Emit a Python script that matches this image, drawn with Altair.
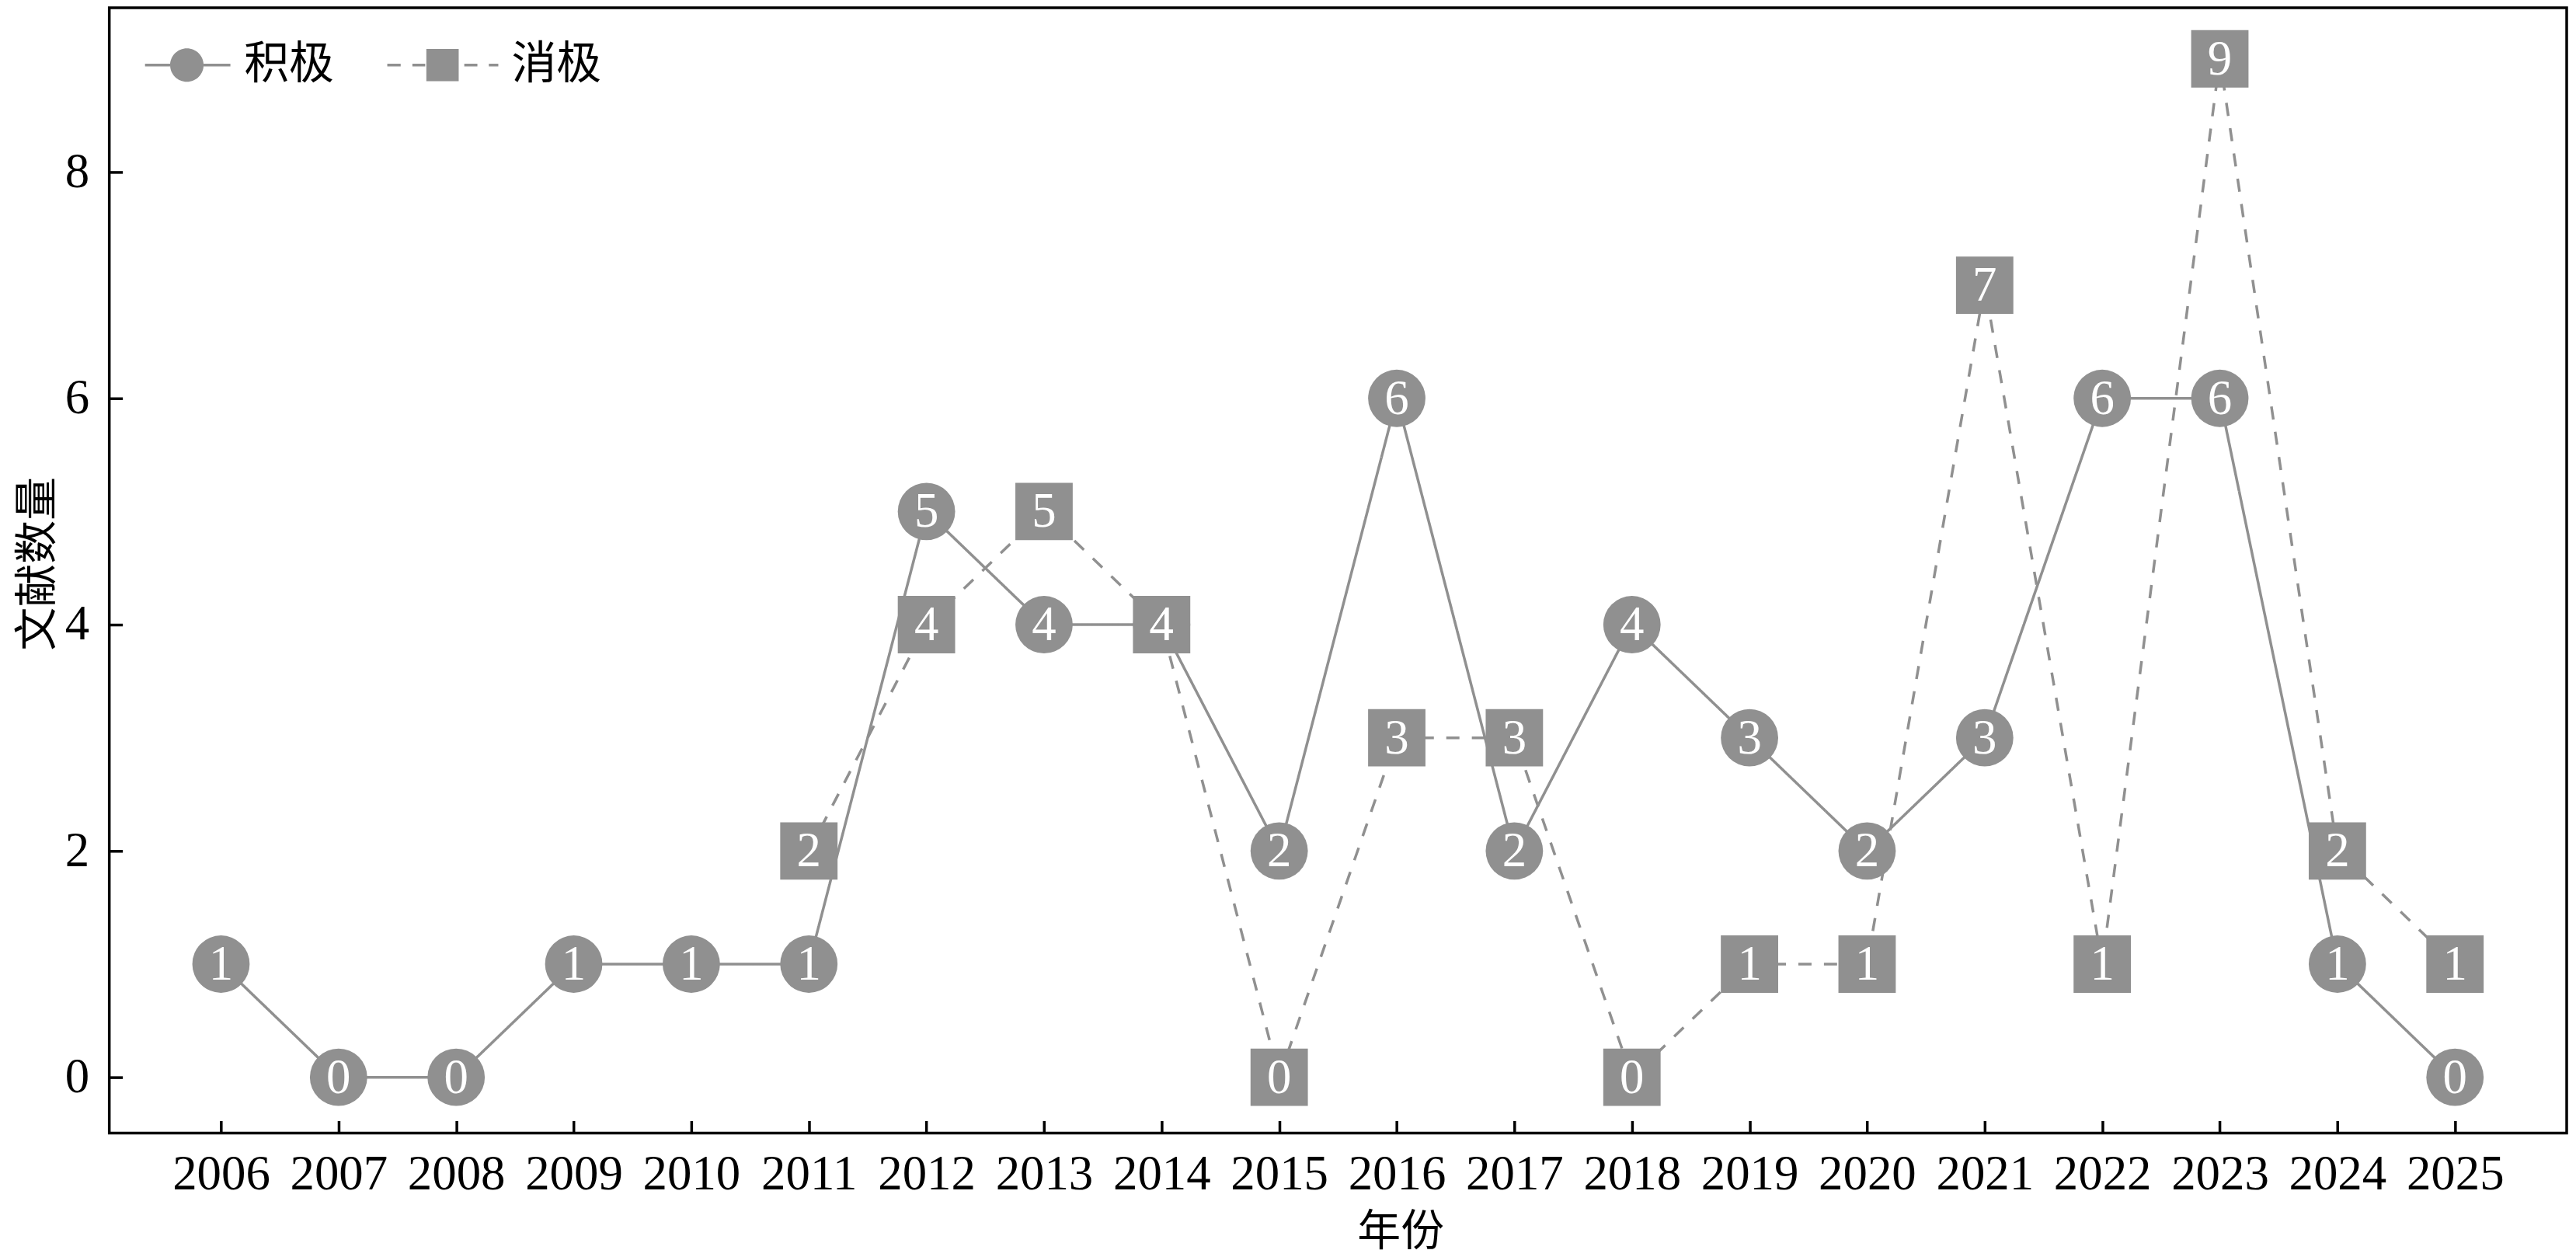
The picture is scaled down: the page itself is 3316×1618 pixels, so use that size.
import altair as alt
import pandas as pd

years = list(range(2006, 2026))
pos_values = [1, 0, 0, 1, 1, 1, 5, 4, 4, 2, 6, 2, 4, 3, 2, 3, 6, 6, 1, 0]
neg_years = list(range(2011, 2026))
neg_values = [2, 4, 5, 4, 0, 3, 3, 0, 1, 1, 7, 1, 9, 2, 1]
series_names = ["积极", "消极"]
y_ticks = [0, 2, 4, 6, 8]

GRAY = "#909090"
SERIF = "Liberation Serif"
CJK = "Noto Sans CJK SC"

rows = []
for yr, v in zip(years, pos_values):
    rows.append({"year": yr, "value": v, "series": series_names[0], "ord": 0})
for yr, v in zip(neg_years, neg_values):
    rows.append({"year": yr, "value": v, "series": series_names[1], "ord": 1})
df = pd.DataFrame(rows)

x_scale = alt.Scale(domain=[2005.05, 2025.95], nice=False, zero=False)
y_scale = alt.Scale(domain=[-0.493, 9.452], nice=False, zero=False)

lines = alt.Chart(df).mark_line(color=GRAY, strokeWidth=3.5).encode(
    x=alt.X("year:Q", scale=x_scale, title="年份",
            axis=alt.Axis(values=years, format="d", ticks=False, domain=False, grid=False,
                          labelFont=SERIF, labelFontSize=63, labelColor="black",
                          labelPadding=22, labelFlush=False, labelOverlap=False,
                          titleFont=CJK, titleFontSize=56, titleFontWeight="normal",
                          titleColor="black", titleX=1666, titleY=144,
                          titleBaseline="alphabetic", titleAlign="center", orient="bottom")),
    y=alt.Y("value:Q", scale=y_scale, title="文献数量",
            axis=alt.Axis(values=y_ticks, format="d", ticks=False, domain=False, grid=False,
                          labelFont=SERIF, labelFontSize=63, labelColor="black",
                          labelPadding=26, labelFlush=False, labelOverlap=False,
                          titleFont=CJK, titleFontSize=56, titleFontWeight="normal",
                          titleColor="black", titleX=-92, titleY=717, titleAngle=270,
                          titleAlign="center", titleBaseline="middle", orient="left")),
    strokeDash=alt.StrokeDash("series:N",
                              scale=alt.Scale(domain=series_names, range=[[1, 0], [17, 16]]),
                              legend=None),
    detail="series:N",
    order="year:Q",
)

points = alt.Chart(df).mark_point(filled=True, color=GRAY, opacity=1, size=5476).encode(
    x=alt.X("year:Q", scale=x_scale, title=None,
            axis=alt.Axis(values=years, labels=False, domain=False, grid=False, ticks=True,
                          tickSize=16, offset=-16, tickWidth=3.5, tickColor="black",
                          orient="bottom")),
    y=alt.Y("value:Q", scale=y_scale, title=None,
            axis=alt.Axis(values=y_ticks, labels=False, domain=False, grid=False, ticks=True,
                          tickSize=17, offset=-17, tickWidth=3.5, tickColor="black",
                          orient="left")),
    shape=alt.Shape("series:N", scale=alt.Scale(domain=series_names, range=["circle", "square"]),
                    legend=None),
    order=alt.Order("ord:Q"),
)

labels = alt.Chart(df).mark_text(color="white", font=SERIF, fontSize=63, baseline="middle",
                                 align="center", dy=1).encode(
    x=alt.X("year:Q", scale=x_scale, axis=None),
    y=alt.Y("value:Q", scale=y_scale, axis=None),
    text=alt.Text("value:Q", format="d"),
    order=alt.Order("ord:Q"),
)

# legend glyphs drawn as filled shapes (line pieces as thin bars)
T = 0.024
def bar(a, b):
    return f"M{a},{-T}L{b},{-T}L{b},{T}L{a},{T}Z"

PATH_POS = (bar(-0.54, -0.09) + bar(0.51, 0.99) +
            "M0.51,0A0.3,0.3,0,1,1,-0.09,0A0.3,0.3,0,1,1,0.51,0Z")
PATH_NEG = (bar(-0.99, -0.75) + bar(-0.54, -0.31) + bar(0.39, 0.625) + bar(0.83, 1.0) +
            "M-0.29,-0.29L0.29,-0.29L0.29,0.29L-0.29,0.29Z")

legend_layer = alt.Chart(df).transform_filter("false").mark_point(
    filled=True, color=GRAY, size=20736, opacity=1
).encode(
    shape=alt.Shape("series:N",
                    scale=alt.Scale(domain=series_names, range=[PATH_POS, PATH_NEG]),
                    legend=alt.Legend(orient="none", legendX=13, legendY=2,
                                      direction="horizontal", title=None,
                                      symbolSize=20736, symbolStrokeWidth=0,
                                      symbolFillColor=GRAY, symbolOpacity=1,
                                      labelFont=CJK, labelFontSize=58, labelColor="black",
                                      labelOffset=17, columnPadding=67, padding=0,
                                      labelLimit=400)),
)

chart = alt.layer(lines, points, labels, legend_layer).resolve_axis(
    x="independent", y="independent"
).resolve_scale(shape="independent").resolve_legend(shape="independent").properties(
    width=3171, height=1452,
    autosize=alt.AutoSizeParams(type="none"),
    padding={"left": 133, "top": 0, "right": 4, "bottom": 160},
    background="white",
).configure_view(stroke="black", strokeWidth=3.5)

chart.save("out.html", embed_options={"renderer": "svg", "actions": False})
